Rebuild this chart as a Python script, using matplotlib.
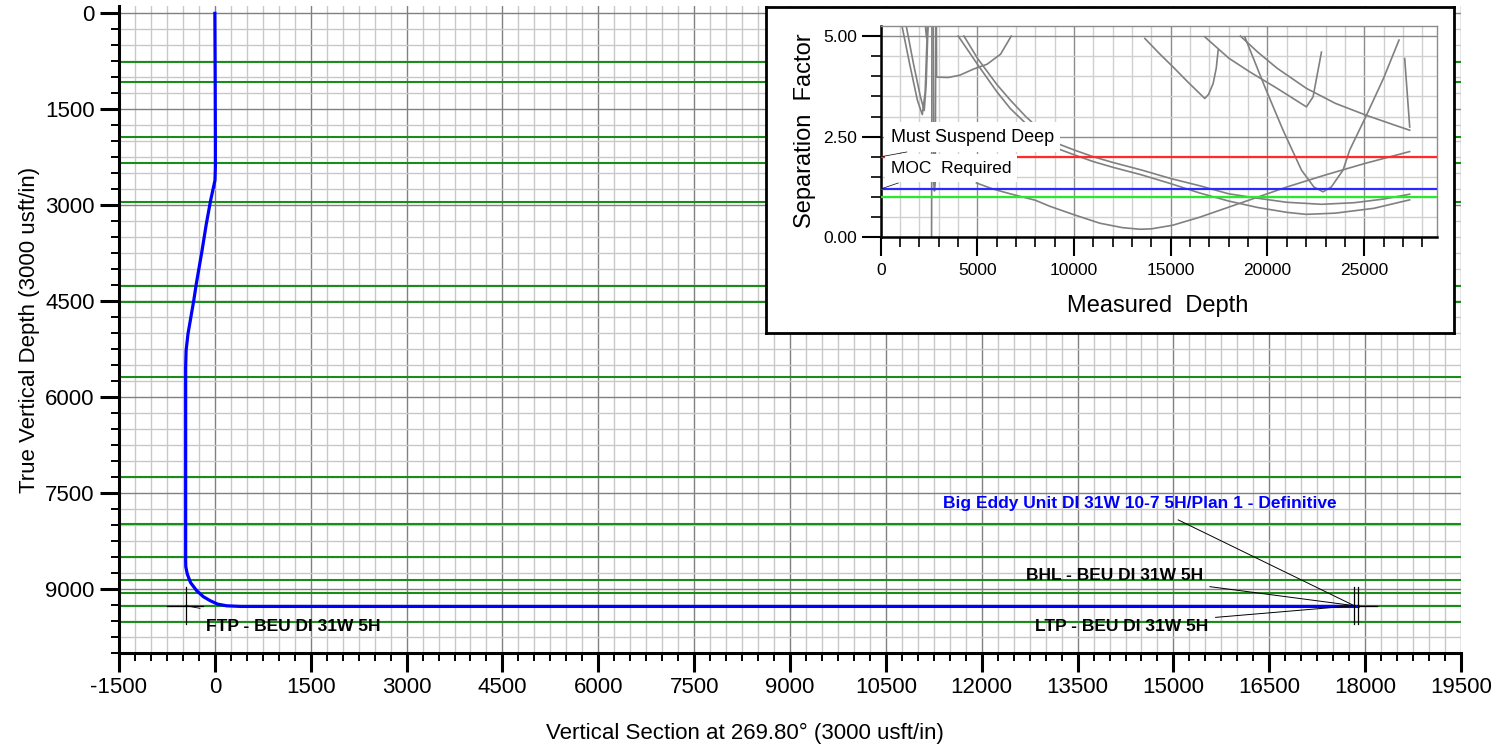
import matplotlib
matplotlib.use("Agg")
import matplotlib.pyplot as plt
from matplotlib import font_manager
from matplotlib.ticker import MultipleLocator, FormatStrFormatter

plt.rcParams["font.family"] = ["Liberation Sans", "DejaVu Sans"]
plt.rcParams["axes.unicode_minus"] = False

# formation tops (TVD, usft)
formation_tvd = [762, 1080, 1936, 2343, 2942, 4257, 4507, 5692, 7246,
                 7986, 8498, 8863, 9066, 9270, 9515]

# well path: vertical section vs TVD
path_vs = [0, 5, 8, 8, 2, -66, -135, -200, -290, -330, -375, -420, -450,
           -457, -457, -455, -432, -380, -285, -180, -77, 40, 185, 400, 17890]
path_tvd = [0, 1000, 2000, 2400, 2609, 2922, 3300, 3705, 4226, 4487, 4748,
            5008, 5270, 5531, 8550, 8650, 8764, 8900, 9025, 9120, 9180,
            9235, 9262, 9272, 9272]

# targets
ftp_vs, ftp_tvd = -457, 9260
ltp_vs, bhl_vs, end_tvd = 17828, 17891, 9260

# separation factor curves (measured depth, separation factor)
md_a1 = [1080, 1500, 1900, 2150, 2300, 2420]
sf_a1 = [5.3, 4.3, 3.4, 3.05, 3.6, 5.3]
md_a2 = [1300, 1700, 2050, 2250, 2350, 2450]
sf_a2 = [5.3, 4.3, 3.5, 3.15, 3.8, 5.3]
md_a3 = [2300, 2370, 2450]
sf_a3 = [5.3, 4.95, 5.3]
md_s1 = [2650, 2640, 2630]
sf_s1 = [5.3, 2.0, 0.0]
md_s2 = [2720, 2740, 2780, 2820, 2850]
sf_s2 = [5.3, 1.35, 1.15, 1.35, 5.3]
md_b = [2880, 2890, 3500, 4100, 4800, 5500, 6200, 6750]
sf_b = [5.3, 3.98, 3.97, 4.03, 4.18, 4.3, 4.55, 5.0]
md_c = [4305, 5000, 6000, 6700, 7500, 8300, 8920, 10000, 11000, 12000, 13500,
        15000, 16500, 18000, 19500, 21000, 22800, 24500, 26000, 27350]
sf_c = [5.0, 4.45, 3.8, 3.41, 3.0, 2.65, 2.37, 2.17, 2.0, 1.86, 1.67,
        1.46, 1.28, 1.08, 0.97, 0.87, 0.82, 0.86, 0.95, 1.07]
md_d = [4010, 5000, 6000, 6700, 7500, 8300, 9000, 10000, 11000, 12000, 13500,
        14951, 16500, 18000, 19500, 21000, 22000, 23500, 25500, 27350]
sf_d = [5.0, 4.3, 3.62, 3.2, 2.83, 2.52, 2.23, 2.05, 1.88, 1.74, 1.55,
        1.34, 1.1, 0.9, 0.74, 0.62, 0.57, 0.6, 0.72, 0.93]
md_e = [4950, 5800, 6700, 8000, 8750, 10000, 11330, 12500, 13400, 14000,
        15100, 16500, 18000, 19085, 21000, 23000, 25000, 27350]
sf_e = [1.35, 1.2, 1.08, 0.92, 0.77, 0.56, 0.35, 0.24, 0.2, 0.21,
        0.3, 0.5, 0.75, 0.93, 1.25, 1.55, 1.83, 2.13]
md_f = [18827, 19860, 20806, 21757, 22400, 22873, 23300, 23907, 24253,
        25116, 26000, 26800]
sf_f = [4.98, 3.74, 2.66, 1.67, 1.25, 1.13, 1.25, 1.67, 2.17, 3.03, 3.95, 4.9]
md_g = [16760, 18000, 19085, 20500, 22015, 22357, 22615, 22790]
sf_g = [4.98, 4.45, 4.11, 3.7, 3.24, 3.49, 4.15, 4.6]
md_h = [18600, 19500, 20500, 22015, 23500, 25116, 26500, 27354]
sf_h = [5.0, 4.6, 4.2, 3.7, 3.33, 3.03, 2.8, 2.66]
md_h2 = [27095, 27354]
sf_h2 = [4.44, 2.74]
md_i = [13660, 14400, 15122, 15900, 16500, 16760, 16950, 17190, 17350, 17450]
sf_i = [4.94, 4.57, 4.23, 3.85, 3.57, 3.45, 3.55, 3.82, 4.2, 4.65]

sf_levels = [2.0, 1.2, 1.0]
level_colors = ["#ff2a2a", "#2a2aff", "#2ae82a"]

# condensed face for the well labels, if the narrow Liberation cut is there
installed = {f.name for f in font_manager.fontManager.ttflist}
if "Liberation Sans Narrow" in installed:
    lab_font, lab_size = ["Liberation Sans Narrow", "Liberation Sans"], 14.5
else:
    lab_font, lab_size = ["Liberation Sans", "DejaVu Sans"], 12.5

W, H = 1505, 751
fig = plt.figure(figsize=(W / 100, H / 100), dpi=100)


def fig_rect(x0, y0, x1, y1):
    # pixel box -> figure fraction
    return [x0 / W, 1 - y1 / H, (x1 - x0) / W, (y1 - y0) / H]


# ---- main section plot ----
ax = fig.add_axes(fig_rect(119, 6, 1461, 653))
ax.set_xlim(-1500, 19500)
ax.set_ylim(10000, -115)
ax.xaxis.set_major_locator(MultipleLocator(1500))
ax.xaxis.set_minor_locator(MultipleLocator(250))
ax.yaxis.set_major_locator(MultipleLocator(1500))
ax.yaxis.set_minor_locator(MultipleLocator(250))
ax.xaxis.set_major_formatter(FormatStrFormatter("%d"))
ax.yaxis.set_major_formatter(FormatStrFormatter("%d"))
ax.set_axisbelow(True)
ax.grid(which="minor", color="#c8c8c8", lw=1.0)
ax.grid(which="major", color="#808080", lw=1.0)
for s in ["top", "right"]:
    ax.spines[s].set_visible(False)
for s in ["left", "bottom"]:
    ax.spines[s].set_linewidth(2.2)
ax.tick_params(which="major", length=13.5, width=2.2, labelsize=16, pad=4)
ax.tick_params(which="minor", length=6, width=1.4)

for t in formation_tvd:
    ax.axhline(t, color="#1a8c1a", lw=1.5, zorder=2)

ax.plot(path_vs, path_tvd, color="#0000ff", lw=2.3, zorder=4,
        solid_joinstyle="round")

# target markers
ax.plot([ftp_vs, ftp_vs], [8974, 9547], color="black", lw=0.9, zorder=5)
ax.plot([-754, -182], [ftp_tvd, ftp_tvd], color="black", lw=0.9, zorder=5)
ax.plot([ftp_vs, -233], [ftp_tvd, 9302], color="black", lw=0.6, zorder=5)
for v in [ltp_vs, bhl_vs]:
    ax.plot([v, v], [8974, 9547], color="black", lw=0.9, zorder=5)
ax.plot([bhl_vs, 18180], [end_tvd, end_tvd], color="black", lw=0.9, zorder=5)

lab = dict(family=lab_font, fontsize=lab_size, fontweight="bold", va="center")
ax.text(-139, 9589, "FTP - BEU DI 31W 5H", ha="left", **lab)
ax.text(14076, 8791, "BHL - BEU DI 31W 5H", ha="center", **lab)
ax.text(14186, 9584, "LTP - BEU DI 31W 5H", ha="center", **lab)
ax.text(14473, 7659, "Big Eddy Unit DI 31W 10-7 5H/Plan 1 - Definitive",
        ha="center", color="#0000ff", **lab)
ax.plot([15074, ltp_vs], [7919, end_tvd], color="black", lw=0.7, zorder=5)
ax.plot([15571, ltp_vs], [8963, end_tvd], color="black", lw=0.7, zorder=5)
ax.plot([15660, ltp_vs], [9443, end_tvd], color="black", lw=0.7, zorder=5)

fig.text(745 / W, 1 - 733 / H, "Vertical Section at 269.80° (3000 usft/in)",
         ha="center", va="center", fontsize=16)
fig.text(30 / W, 1 - 330 / H, "True Vertical Depth (3000 usft/in)",
         ha="center", va="center", rotation=90, fontsize=16)

# ---- inset frame ----
frame = fig.add_axes(fig_rect(766, 6.7, 1454.3, 332.7))
frame.set_facecolor("white")
frame.set_xticks([])
frame.set_yticks([])
for s in frame.spines.values():
    s.set_linewidth(2.0)
    s.set_color("black")

# ---- separation factor inset ----
ins = fig.add_axes(fig_rect(880.7, 26, 1436.7, 237.3))
ins.set_xlim(0, 28750)
ins.set_ylim(0, 5.25)
ins.xaxis.set_major_locator(MultipleLocator(5000))
ins.xaxis.set_minor_locator(MultipleLocator(1000))
ins.yaxis.set_major_locator(MultipleLocator(2.5))
ins.yaxis.set_minor_locator(MultipleLocator(0.5))
ins.yaxis.set_major_formatter(FormatStrFormatter("%.2f"))
ins.set_axisbelow(True)
ins.grid(which="minor", color="#d0d0d0", lw=1.0)
ins.grid(which="major", color="#8c8c8c", lw=1.0)
for s in ["top", "right"]:
    ins.spines[s].set_color("#8c8c8c")
    ins.spines[s].set_linewidth(1.0)
for s in ["left", "bottom"]:
    ins.spines[s].set_linewidth(1.8)
ins.tick_params(axis="y", which="major", length=14, width=1.5, labelsize=12.5, pad=3)
ins.tick_params(axis="y", which="minor", length=7.5, width=1.2)
ins.tick_params(axis="x", which="major", length=13.5, width=1.5, labelsize=12.5, pad=5)
ins.tick_params(axis="x", which="minor", length=7, width=1.2)

for lvl, col in zip(sf_levels, level_colors):
    ins.axhline(lvl, color=col, lw=1.6, zorder=3)

curves = [(md_a1, sf_a1), (md_a2, sf_a2), (md_a3, sf_a3), (md_s1, sf_s1),
          (md_s2, sf_s2), (md_b, sf_b), (md_c, sf_c), (md_d, sf_d),
          (md_e, sf_e), (md_f, sf_f), (md_g, sf_g), (md_h, sf_h),
          (md_h2, sf_h2), (md_i, sf_i)]
for md, sf in curves:
    ins.plot(md, sf, color="#808080", lw=1.2, zorder=2)

box = dict(facecolor="white", edgecolor="none", boxstyle="square,pad=0.35")
ins.text(517, 2.49, "Must Suspend Deep", ha="left", va="center",
         fontsize=13, bbox=box, zorder=6)
ins.text(517, 1.72, "MOC  Required", ha="left", va="center",
         fontsize=12.5, bbox=box, zorder=6)
ins.plot([0, 1350], [2.0, 2.12], color="black", lw=0.5, zorder=7)
ins.plot([0, 910], [1.2, 1.35], color="black", lw=0.5, zorder=7)

fig.text(1158 / W, 1 - 312.3 / H, "Measured  Depth", ha="center",
         va="baseline", fontsize=17)
fig.text(805 / W, 1 - 131 / H, "Separation  Factor", ha="center",
         va="center", rotation=90, fontsize=17)

fig.savefig("out.png", dpi=100)
